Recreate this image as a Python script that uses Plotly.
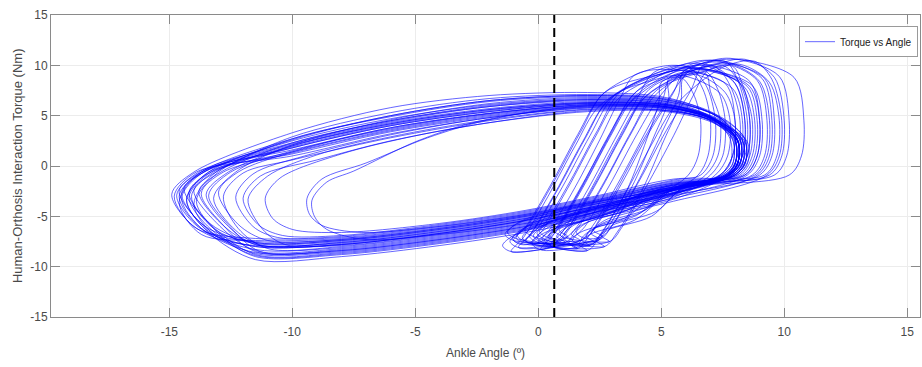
import plotly.graph_objects as go

# Ankle angle (deg) vs human-orthosis interaction torque (Nm), one list per gait stride.
stride_01 = [(-0.7,-7.8),(-0.2,-6.4),(0.8,-2.3),(1.9,2.7),(2.9,6.7),(5.2,9.6),(6.5,10.2),(8.6,8.4),(9.0,4.5),(8.9,1.0),(8.4,-0.9),(5.5,-2.3),(2.5,-3.9),(-0.5,-5.4),(-4.0,-6.7),(-8.0,-7.8),(-11.5,-8.0),(-13.8,-6.1),(-14.7,-2.9),(-13.8,-0.6),(-10.0,2.3),(-6.0,4.5),(-2.0,5.9),(2.0,6.5),(5.2,6.2),(7.2,4.6),(8.1,2.6),(8.1,0.2),(7.6,-1.0),(4.5,-2.9),(1.2,-4.8),(-0.6,-6.2),(-1.05,-7.2),(-0.7,-7.8)]
stride_02 = [(0.3,-7.3),(0.8,-5.9),(1.8,-1.8),(2.9,3.2),(3.9,7.2),(5.7,9.9),(7.0,10.5),(9.2,8.7),(9.6,4.5),(9.5,1.0),(9.0,-0.9),(5.5,-2.9),(2.5,-4.5),(-0.5,-6.0),(-4.0,-7.3),(-8.0,-8.4),(-11.5,-8.6),(-13.6,-6.4),(-14.5,-3.2),(-13.6,-0.6),(-10.0,1.8),(-6.0,4.0),(-2.0,5.4),(2.0,6.2),(5.2,6.0),(7.4,4.4),(8.4,2.4),(8.4,0.2),(7.9,-1.0),(4.5,-3.2),(2.2,-4.3),(0.4,-5.7),(-0.05,-6.7),(0.3,-7.3)]
stride_03 = [(1.1,-7.6),(1.6,-6.2),(2.6,-2.1),(3.7,2.9),(4.7,6.9),(6.2,9.4),(7.5,10.0),(8.2,8.2),(8.6,4.5),(8.5,1.0),(8.0,-0.9),(5.5,-1.9),(2.5,-3.5),(-0.5,-5.0),(-4.0,-6.3),(-8.0,-7.4),(-11.5,-7.6),(-13.3,-5.8),(-14.2,-2.6),(-13.3,-0.6),(-10.0,1.4),(-6.0,3.6),(-2.0,5.1),(2.0,6.0),(5.2,5.85),(7.0,4.8),(7.9,2.7),(7.9,0.2),(7.4,-1.0),(4.5,-2.7),(3.0,-4.6),(1.2,-6.0),(0.75,-7.0),(1.1,-7.6)]
stride_04 = [(-1.1,-8.5),(-0.6,-7.1),(0.4,-3.0),(1.5,2.0),(2.5,6.0),(4.7,8.9),(6.0,9.5),(7.9,7.7),(8.3,4.5),(8.2,1.0),(7.7,-0.9),(5.5,-3.3),(2.5,-4.9),(-0.5,-6.4),(-4.0,-7.7),(-8.0,-8.8),(-11.5,-9.0),(-13.0,-6.7),(-13.9,-3.5),(-13.0,-0.6),(-10.0,2.7),(-6.0,4.9),(-2.0,6.4),(2.0,6.9),(5.2,6.5),(7.3,4.9),(8.2,2.8),(8.2,0.2),(7.7,-1.0),(4.5,-3.4),(0.8,-5.5),(-1.0,-6.9),(-1.45,-7.9),(-1.1,-8.5)]
stride_05 = [(1.9,-7.2),(2.4,-5.8),(3.4,-1.7),(4.5,3.3),(5.5,7.3),(5.9,9.2),(7.2,9.8),(7.8,8.0),(8.2,4.5),(8.1,1.0),(7.6,-0.9),(5.5,-1.5),(2.5,-3.1),(-0.5,-4.6),(-4.0,-5.9),(-8.0,-7.0),(-11.5,-7.2),(-13.9,-6.2),(-14.8,-3.0),(-13.9,-0.6),(-10.0,1.0),(-6.0,3.2),(-2.0,4.8),(2.0,5.8),(5.2,5.7),(7.1,4.4),(8.1,2.5),(8.1,0.2),(7.6,-1.0),(5.0,-2.2),(3.8,-4.2),(2.0,-5.6),(1.55,-6.6),(1.9,-7.2)]
stride_06 = [(2.6,-7.0),(3.1,-5.6),(4.1,-1.5),(5.2,3.5),(6.2,7.5),(6.7,10.0),(8.0,10.6),(10.4,8.8),(10.8,4.5),(10.7,1.0),(10.2,-0.9),(5.5,-2.1),(2.5,-3.7),(-0.5,-5.2),(-4.0,-6.5),(-8.0,-7.6),(-11.5,-7.8),(-12.6,-6.0),(-13.5,-2.8),(-12.6,-0.6),(-10.0,2.0),(-6.0,4.2),(-2.0,5.6),(2.0,6.3),(5.2,6.1),(7.3,4.7),(8.3,2.6),(8.3,0.2),(7.8,-1.0),(5.7,-2.0),(4.5,-4.0),(2.7,-5.4),(2.25,-6.4),(2.6,-7.0)]
stride_07 = [(0.6,-8.0),(1.1,-6.6),(2.1,-2.5),(3.2,2.5),(4.2,6.5),(5.5,8.6),(6.8,9.2),(7.0,7.4),(7.4,4.5),(7.3,1.0),(6.8,-0.9),(5.5,-2.7),(2.5,-4.3),(-0.5,-5.8),(-4.0,-7.1),(-8.0,-8.2),(-11.5,-8.4),(-13.1,-5.6),(-14.0,-2.4),(-13.1,-0.6),(-10.0,2.9),(-6.0,5.3),(-2.0,6.7),(2.0,7.1),(5.2,6.7),(7.3,5.0),(8.0,2.8),(8.0,0.2),(7.5,-1.0),(4.5,-3.1),(2.5,-5.0),(0.7,-6.4),(0.25,-7.4),(0.6,-8.0)]
stride_08 = [(-0.2,-7.0),(0.3,-5.6),(1.3,-1.5),(2.4,3.5),(3.4,7.5),(6.5,10.1),(7.8,10.7),(9.8,8.9),(10.2,4.5),(10.1,1.0),(9.6,-0.9),(5.5,-1.7),(2.5,-3.3),(-0.5,-4.8),(-4.0,-6.1),(-8.0,-7.2),(-11.5,-7.4),(-13.7,-6.8),(-14.6,-3.6),(-13.7,-0.6),(-10.0,1.6),(-6.0,3.8),(-2.0,5.2),(2.0,6.1),(5.2,5.9),(7.4,4.3),(8.5,2.4),(8.5,0.2),(8.0,-1.0),(4.5,-2.6),(1.7,-4.0),(-0.1,-5.4),(-0.55,-6.4),(-0.2,-7.0)]
stride_09 = [(2.1,-7.9),(2.6,-6.5),(3.6,-2.4),(4.4,2.6),(4.9,6.3),(5.0,8.3),(5.8,8.8),(6.3,7.2),(6.6,4.5),(6.5,1.0),(6.1,-0.9),(5.2,-2.4),(2.5,-4.1),(-0.5,-5.6),(-4.0,-6.9),(-8.0,-8.0),(-11.0,-8.2),(-12.2,-6.2),(-12.8,-3.0),(-12.0,-0.7),(-10.0,0.6),(-6.0,2.8),(-2.0,4.5),(2.0,5.6),(5.2,5.5),(7.1,4.5),(8.1,2.6),(8.1,0.2),(7.6,-1.0),(5.2,-2.6),(4.0,-4.9),(2.2,-6.3),(1.75,-7.3),(2.1,-7.9)]
stride_10 = [(1.4,-7.4),(1.9,-6.0),(2.9,-1.9),(4.0,3.1),(5.0,7.1),(6.1,9.7),(7.4,10.3),(8.9,8.5),(9.3,4.5),(9.2,1.0),(8.7,-0.9),(5.5,-2.3),(2.5,-3.9),(-0.5,-5.4),(-4.0,-6.7),(-8.0,-7.8),(-11.2,-7.9),(-12.3,-6.4),(-13.2,-3.2),(-12.3,-0.6),(-10.0,2.1),(-6.0,4.6),(-2.0,6.2),(2.0,6.8),(5.2,6.4),(7.0,4.9),(7.8,2.7),(7.8,0.2),(7.3,-1.0),(4.5,-2.9),(3.3,-4.4),(1.5,-5.8),(1.05,-6.8),(1.4,-7.4)]
stride_11 = [(-0.5,-7.5),(0.0,-6.1),(1.0,-2.0),(2.1,3.0),(3.1,7.0),(4.5,8.4),(5.8,9.0),(7.4,7.2),(7.8,4.5),(7.7,1.0),(7.2,-0.9),(5.5,-3.1),(2.5,-4.7),(-0.5,-6.2),(-4.0,-7.5),(-8.0,-8.6),(-11.5,-8.8),(-13.5,-5.4),(-14.4,-2.2),(-13.5,-0.5),(-10.0,2.1),(-6.0,4.3),(-2.0,5.7),(2.0,6.4),(5.2,6.1),(7.2,4.6),(8.3,2.6),(8.3,0.2),(7.8,-1.0),(4.5,-3.3),(1.4,-4.5),(-0.4,-5.9),(-0.85,-6.9),(-0.5,-7.5)]
stride_12 = [(2.9,-7.5),(3.4,-6.1),(4.4,-2.0),(5.5,3.0),(6.3,7.0),(6.9,9.5),(8.2,10.1),(9.4,8.3),(9.8,4.5),(9.7,1.0),(9.2,-0.9),(5.5,-1.3),(2.5,-2.9),(-0.5,-4.4),(-4.0,-5.7),(-8.0,-6.6),(-10.0,-6.3),(-10.8,-5.2),(-11.1,-3.2),(-10.5,-1.2),(-8.0,1.2),(-5.0,3.0),(-2.0,4.3),(2.0,5.4),(5.2,5.4),(7.1,4.3),(8.1,2.5),(8.1,0.2),(7.6,-1.0),(6.0,-1.9),(4.8,-4.5),(3.0,-5.9),(2.55,-6.9),(2.9,-7.5)]
stride_13 = [(0.9,-6.9),(1.4,-5.5),(2.4,-1.4),(3.5,3.6),(4.5,7.6),(5.6,9.0),(6.9,9.6),(8.4,7.8),(8.8,4.5),(8.7,1.0),(8.2,-0.9),(5.5,-2.0),(2.5,-3.6),(-0.5,-5.1),(-4.0,-6.4),(-8.0,-7.5),(-11.5,-7.7),(-13.2,-6.2),(-14.1,-3.0),(-13.2,-0.6),(-10.0,1.8),(-6.0,4.0),(-2.0,5.4),(2.0,6.2),(5.2,6.0),(7.3,4.5),(8.2,2.6),(8.2,0.2),(7.7,-1.0),(4.5,-2.75),(2.8,-3.9),(1.0,-5.3),(0.55,-6.3),(0.9,-6.9)]
stride_14 = [(1.6,-8.2),(2.1,-6.8),(3.1,-2.7),(4.2,2.3),(5.2,6.3),(6.3,9.8),(7.6,10.4),(8.1,8.6),(8.5,4.5),(8.4,1.0),(7.9,-0.9),(5.5,-2.8),(2.5,-4.4),(-0.5,-5.9),(-4.0,-7.2),(-8.0,-8.3),(-11.5,-8.5),(-12.8,-5.9),(-13.7,-2.7),(-12.8,-0.6),(-10.0,1.3),(-6.0,3.5),(-2.0,5.0),(2.0,5.95),(5.2,5.8),(7.0,4.7),(8.0,2.6),(8.0,0.2),(7.5,-1.0),(4.7,-3.1),(3.5,-5.2),(1.7,-6.6),(1.25,-7.6),(1.6,-8.2)]
stride_15 = [(-0.9,-7.2),(-0.4,-5.8),(0.6,-1.7),(1.7,3.3),(2.7,7.3),(4.9,9.1),(6.2,9.7),(8.5,7.9),(8.9,4.5),(8.8,1.0),(8.3,-0.9),(5.5,-1.8),(2.5,-3.4),(-0.5,-4.9),(-4.0,-6.2),(-8.0,-7.3),(-11.5,-7.5),(-13.4,-6.5),(-14.3,-3.3),(-13.4,-0.6),(-10.0,2.6),(-6.0,5.0),(-2.0,6.5),(2.0,7.0),(5.2,6.6),(7.4,4.8),(8.4,2.7),(8.4,0.2),(7.9,-1.0),(4.5,-2.65),(1.0,-4.2),(-0.8,-5.6),(-1.25,-6.6),(-0.9,-7.2)]
stride_16 = [(2.3,-7.6),(2.8,-6.2),(3.8,-2.1),(4.7,2.9),(5.3,6.6),(5.3,8.7),(6.2,9.3),(6.7,7.6),(7.0,4.5),(6.9,1.0),(6.5,-0.9),(5.3,-2.6),(2.5,-4.2),(-0.5,-5.7),(-4.0,-6.8),(-7.0,-7.3),(-8.6,-6.3),(-9.1,-5.0),(-9.2,-3.4),(-8.6,-1.6),(-7.5,-0.5),(-4.9,2.5),(-2.5,4.4),(1.0,5.7),(5.0,5.8),(7.2,4.6),(8.1,2.6),(8.1,0.2),(7.6,-1.0),(5.4,-2.3),(4.2,-4.6),(2.4,-6.0),(1.95,-7.0),(2.3,-7.6)]
stride_17 = [(0.1,-8.3),(0.6,-6.9),(1.6,-2.8),(2.7,2.2),(3.7,6.2),(6.0,9.9),(7.3,10.5),(9.1,8.7),(9.5,4.5),(9.4,1.0),(8.9,-0.9),(5.5,-3.2),(2.5,-4.8),(-0.5,-6.3),(-4.0,-7.6),(-8.0,-8.7),(-11.5,-8.9),(-13.7,-5.7),(-14.6,-2.5),(-13.7,-0.6),(-10.0,2.2),(-6.0,4.4),(-2.0,5.9),(2.0,6.6),(5.2,6.3),(7.2,4.7),(8.2,2.6),(8.2,0.2),(7.7,-1.0),(4.5,-3.35),(2.0,-5.3),(0.2,-6.7),(-0.25,-7.7),(0.1,-8.3)]
stride_18 = [(1.2,-7.0),(1.7,-5.6),(2.7,-1.5),(3.8,3.5),(4.8,7.5),(6.6,9.3),(7.9,9.9),(8.3,8.1),(8.7,4.5),(8.6,1.0),(8.1,-0.9),(5.5,-1.6),(2.5,-3.2),(-0.5,-4.7),(-4.0,-6.0),(-8.0,-7.1),(-10.6,-7.1),(-11.6,-6.0),(-12.3,-3.1),(-11.6,-0.8),(-9.5,1.0),(-6.0,3.1),(-2.0,4.8),(2.0,5.75),(5.2,5.65),(7.3,4.3),(8.3,2.5),(8.3,0.2),(7.8,-1.0),(4.5,-2.55),(3.1,-4.0),(1.3,-5.4),(0.85,-6.4),(1.2,-7.0)]
stride_19 = [(-0.3,-7.7),(0.2,-6.3),(1.2,-2.2),(2.3,2.8),(3.3,6.8),(5.4,9.4),(6.7,10.0),(8.0,8.2),(8.4,4.5),(8.3,1.0),(7.8,-0.9),(5.5,-2.2),(2.5,-3.8),(-0.5,-5.3),(-4.0,-6.6),(-8.0,-7.7),(-11.5,-7.9),(-13.1,-7.0),(-14.0,-3.8),(-13.1,-0.6),(-10.0,2.0),(-6.0,4.2),(-2.0,5.6),(2.0,6.3),(5.2,6.1),(7.1,4.8),(8.1,2.6),(8.1,0.2),(7.6,-1.0),(4.5,-2.85),(1.6,-4.7),(-0.2,-6.1),(-0.65,-7.1),(-0.3,-7.7)]
stride_20 = [(2.7,-8.0),(3.2,-6.6),(4.2,-2.5),(5.1,2.5),(5.8,6.5),(5.9,8.8),(6.8,9.4),(7.3,7.6),(7.6,4.5),(7.5,1.0),(7.0,-0.9),(5.5,-2.9),(2.5,-4.5),(-0.5,-6.0),(-4.0,-7.3),(-8.0,-8.4),(-11.3,-8.5),(-12.5,-6.1),(-13.4,-2.9),(-12.5,-0.6),(-10.0,1.5),(-6.0,3.7),(-2.0,5.2),(2.0,6.05),(5.2,5.9),(7.0,4.5),(7.9,2.6),(7.9,0.2),(7.4,-1.0),(5.8,-2.3),(4.6,-5.0),(2.8,-6.4),(2.35,-7.4),(2.7,-8.0)]
stride_21 = [(0.4,-7.1),(0.9,-5.7),(1.9,-1.6),(3.0,3.4),(4.0,7.4),(7.1,10.0),(8.4,10.6),(9.6,8.8),(10.0,4.5),(9.9,1.0),(9.4,-0.9),(5.5,-1.9),(2.5,-3.5),(-0.5,-5.0),(-4.0,-6.3),(-8.0,-7.4),(-11.5,-7.6),(-13.6,-5.9),(-14.5,-2.7),(-13.6,-0.6),(-10.0,2.5),(-6.0,4.7),(-2.0,6.1),(2.0,6.7),(5.2,6.4),(7.4,4.9),(8.4,2.7),(8.4,0.2),(7.9,-1.0),(4.5,-2.7),(2.3,-4.1),(0.5,-5.5),(0.05,-6.5),(0.4,-7.1)]
stride_22 = [(1.7,-7.4),(2.2,-6.0),(3.2,-1.9),(4.3,3.1),(5.1,6.9),(5.3,8.5),(6.4,9.1),(7.6,7.3),(8.0,4.5),(7.9,1.0),(7.4,-0.9),(5.5,-2.4),(2.5,-4.0),(-0.5,-5.5),(-4.0,-6.8),(-8.0,-7.9),(-10.3,-7.8),(-11.2,-6.3),(-11.8,-3.3),(-11.0,-1.0),(-9.0,1.1),(-6.0,2.9),(-2.0,4.6),(2.0,5.65),(5.2,5.55),(7.2,4.4),(8.1,2.5),(8.1,0.2),(7.6,-1.0),(4.8,-2.9),(3.6,-4.4),(1.8,-5.8),(1.35,-6.8),(1.7,-7.4)]
stride_23 = [(-0.8,-8.1),(-0.3,-6.7),(0.7,-2.6),(1.8,2.4),(2.8,6.4),(4.8,9.2),(6.1,9.8),(8.7,8.0),(9.1,4.5),(9.0,1.0),(8.5,-0.9),(5.5,-3.0),(2.5,-4.6),(-0.5,-6.1),(-4.0,-7.4),(-8.0,-8.5),(-11.5,-8.7),(-13.3,-6.3),(-14.2,-3.1),(-13.3,-0.6),(-10.0,1.9),(-6.0,4.1),(-2.0,5.5),(2.0,6.25),(5.2,6.05),(7.3,4.6),(8.2,2.6),(8.2,0.2),(7.7,-1.0),(4.5,-3.25),(1.1,-5.1),(-0.7,-6.5),(-1.15,-7.5),(-0.8,-8.1)]
stride_24 = [(0.8,-7.5),(1.3,-6.1),(2.3,-2.0),(3.4,3.0),(4.4,7.0),(6.4,9.6),(7.7,10.2),(9.0,8.4),(9.4,4.5),(9.3,1.0),(8.8,-0.9),(5.5,-2.1),(2.5,-3.7),(-0.5,-5.2),(-4.0,-6.5),(-8.0,-7.6),(-11.5,-7.8),(-12.9,-5.7),(-13.8,-2.5),(-12.9,-0.6),(-10.0,2.3),(-6.0,4.5),(-2.0,6.0),(2.0,6.6),(5.2,6.2),(7.0,4.8),(8.0,2.6),(8.0,0.2),(7.5,-1.0),(4.5,-2.8),(2.7,-4.5),(0.9,-5.9),(0.45,-6.9),(0.8,-7.5)]
stride_25 = [(0.0,-7.6),(0.5,-6.2),(1.5,-2.1),(2.5,2.6),(3.3,6.6),(3.9,9.0),(5.2,9.6),(7.6,8.2),(8.0,4.5),(7.9,1.0),(7.4,-0.9),(5.5,-2.6),(2.5,-4.2),(-0.5,-5.7),(-4.0,-7.0),(-8.0,-8.1),(-11.5,-8.3),(-14.0,-6.0),(-14.9,-2.8),(-14.0,-0.6),(-10.0,3.3),(-6.0,5.8),(-2.0,7.0),(2.0,7.3),(5.2,6.8),(7.2,5.0),(8.0,2.8),(8.0,0.2),(7.6,-1.0),(4.5,-3.05),(1.9,-4.6),(0.1,-6.0),(-0.35,-7.0),(0.0,-7.6)]
stride_26 = [(2.0,-8.4),(2.5,-7.0),(3.5,-2.9),(4.6,2.1),(5.6,6.1),(7.5,9.8),(8.8,10.4),(9.5,8.6),(9.9,4.5),(9.8,1.0),(9.3,-0.9),(5.5,-3.5),(2.5,-5.1),(-0.5,-6.6),(-4.0,-7.9),(-8.0,-9.0),(-11.5,-9.3),(-13.4,-6.6),(-14.3,-3.4),(-13.4,-0.6),(-10.0,1.2),(-6.0,3.4),(-2.0,4.9),(2.0,5.9),(5.2,5.8),(7.2,4.5),(8.1,2.5),(8.1,0.3),(7.7,-1.0),(5.1,-3.2),(3.9,-5.4),(2.1,-6.8),(1.65,-7.8),(2.0,-8.4)]
stride_27 = [(0.5,-7.9),(1.0,-6.5),(2.0,-2.4),(3.1,2.6),(4.0,6.6),(4.7,9.3),(6.0,9.9),(6.8,8.1),(7.2,4.5),(7.1,1.0),(6.6,-0.9),(5.5,-1.4),(2.5,-3.0),(-0.5,-4.5),(-4.0,-5.8),(-8.0,-6.9),(-10.4,-6.9),(-11.4,-5.8),(-12.0,-3.2),(-11.3,-1.0),(-9.0,0.6),(-6.0,2.5),(-2.0,4.3),(2.0,5.5),(5.2,5.5),(7.1,4.4),(8.0,2.4),(8.0,0.2),(7.6,-1.0),(4.5,-2.45),(2.4,-4.9),(0.6,-6.3),(0.15,-7.3),(0.5,-7.9)]
stride_28 = [(-1.0,-7.4),(-0.5,-6.0),(0.5,-1.9),(1.6,3.1),(2.6,7.1),(4.3,9.4),(5.6,10.0),(8.2,8.2),(8.6,4.5),(8.5,1.0),(8.0,-0.9),(5.5,-2.3),(2.5,-3.9),(-0.5,-5.4),(-4.0,-6.7),(-8.0,-7.8),(-11.5,-8.0),(-13.7,-6.2),(-14.6,-3.0),(-13.7,-0.6),(-10.0,2.7),(-6.0,5.0),(-2.0,6.5),(2.0,7.0),(5.2,6.6),(7.3,4.9),(8.1,2.7),(8.1,0.2),(7.7,-1.0),(4.5,-2.9),(0.9,-4.4),(-0.9,-5.8),(-1.35,-6.8),(-1.0,-7.4)]
stride_29 = [(2.5,-7.3),(3.0,-5.9),(4.0,-1.8),(5.0,3.2),(5.7,7.0),(5.9,9.4),(7.0,10.0),(8.0,8.2),(8.4,4.5),(8.3,1.0),(7.8,-0.9),(5.5,-1.8),(2.5,-3.4),(-0.5,-4.9),(-4.0,-6.2),(-8.0,-7.3),(-11.0,-7.4),(-12.2,-5.8),(-13.0,-2.6),(-12.2,-0.6),(-10.0,1.4),(-6.0,3.8),(-2.0,5.25),(2.0,6.1),(5.2,5.9),(7.1,4.6),(8.1,2.6),(8.1,0.2),(7.7,-1.0),(5.6,-2.1),(4.4,-4.3),(2.6,-5.7),(2.15,-6.7),(2.5,-7.3)]
stride_30 = [(0.3,-7.7),(0.8,-6.3),(1.8,-2.2),(2.9,2.8),(3.9,6.8),(5.3,9.1),(6.6,9.7),(8.6,7.9),(9.0,4.5),(8.9,1.0),(8.4,-0.9),(5.5,-1.7),(2.5,-3.3),(-0.5,-4.8),(-4.0,-6.0),(-7.2,-6.6),(-8.8,-5.9),(-9.3,-4.8),(-9.4,-3.2),(-8.8,-1.3),(-7.0,0.3),(-4.5,2.8),(-2.0,4.6),(1.5,5.9),(5.2,5.9),(7.2,4.5),(8.1,2.6),(8.1,0.2),(7.7,-1.0),(4.5,-2.6),(2.2,-4.7),(0.4,-6.1),(-0.05,-7.1),(0.3,-7.7)]

strides = [stride_01, stride_02, stride_03, stride_04, stride_05, stride_06,
           stride_07, stride_08, stride_09, stride_10, stride_11, stride_12,
           stride_13, stride_14, stride_15, stride_16, stride_17, stride_18,
           stride_19, stride_20, stride_21, stride_22, stride_23, stride_24,
           stride_25, stride_26, stride_27, stride_28, stride_29, stride_30]

# Angle marker drawn as a dashed vertical line
marker_angle = 0.65
torque_limits = [-15, 15]

x_ticks = [-15, -10, -5, 0, 5, 10, 15]
y_ticks = [-15, -10, -5, 0, 5, 10, 15]

angle = []
torque = []
for s in strides:
    angle.extend(p[0] for p in s)
    torque.extend(p[1] for p in s)

FONT = "Liberation Sans, Arial, sans-serif"
AXIS_GRAY = "#8a8a8a"

fig = go.Figure()
fig.add_trace(go.Scatter(
    x=angle, y=torque, mode="lines", name="Torque vs Angle",
    line=dict(color="rgba(0,0,255,0.6)", width=1, shape="spline", smoothing=0.9),
))
fig.add_trace(go.Scatter(
    x=[marker_angle, marker_angle], y=torque_limits, mode="lines",
    showlegend=False, hoverinfo="skip",
    line=dict(color="black", width=2, dash="9px,5px"),
))

axis_common = dict(
    showgrid=True, gridcolor="#ececec", gridwidth=1,
    zeroline=False, showline=True, linecolor=AXIS_GRAY, linewidth=1,
    mirror="ticks", ticks="inside", ticklen=9, tickcolor=AXIS_GRAY, tickwidth=1,
    tickfont=dict(family=FONT, size=12, color="#4a4a4a"),
)

fig.update_layout(
    width=922, height=367,
    margin=dict(l=51, r=2, t=15, b=50),
    paper_bgcolor="white", plot_bgcolor="white",
    xaxis=dict(range=[-19.81, 15.52], tickvals=x_ticks,
               ticktext=[str(v) for v in x_ticks], ticklabelstandoff=4, **axis_common),
    yaxis=dict(range=[-15, 15], tickvals=y_ticks,
               ticktext=[str(v) for v in y_ticks], **axis_common),
    legend=dict(
        x=0.9977, y=0.963, xanchor="right", yanchor="top",
        bgcolor="white", bordercolor="#9a9a9a", borderwidth=1,
        font=dict(family=FONT, size=10, color="#222222"),
        itemwidth=30, tracegroupgap=0,
    ),
    annotations=[
        dict(text="Ankle Angle (º)", xref="paper", yref="paper",
             x=0.50, y=-0.12, xanchor="center", yanchor="middle", showarrow=False,
             font=dict(family=FONT, size=12, color="#4a4a4a")),
        dict(text="Human-Orthosis Interaction Torque (Nm)", xref="paper", yref="paper",
             x=-0.039, y=0.5, xanchor="center", yanchor="middle", showarrow=False,
             textangle=-90, font=dict(family=FONT, size=13, color="#4a4a4a")),
    ],
)

fig.write_html("out.html")
